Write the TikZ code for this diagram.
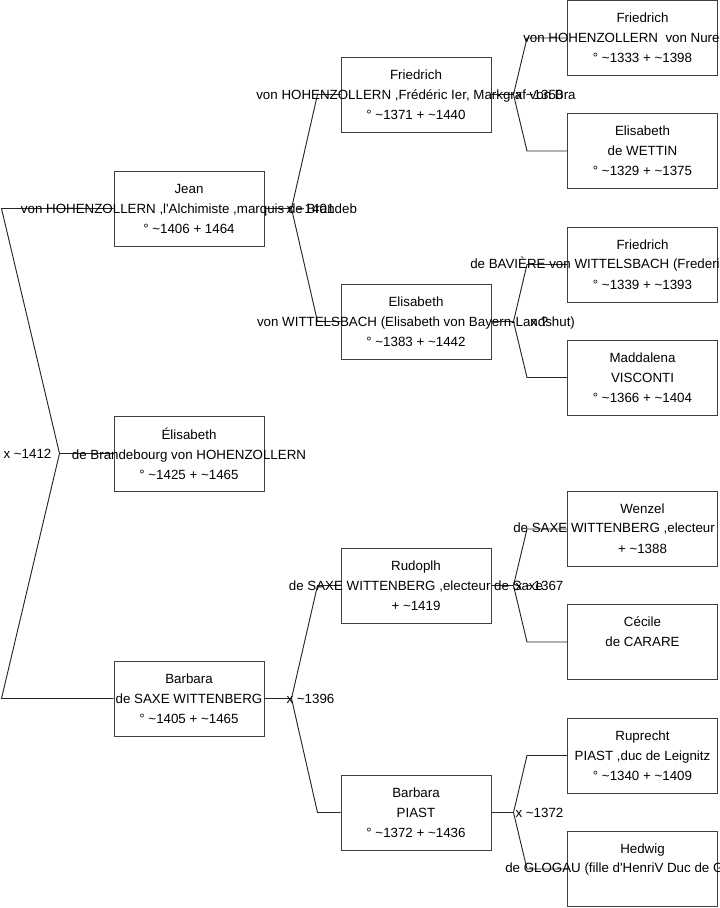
\documentclass[tikz,border=0pt]{standalone}
\usepackage{fontspec}
\setmainfont{Liberation Sans}
\usetikzlibrary{positioning}
\newcommand{\abt}{\textasciitilde}
\newcommand{\apos}{\textquotesingle}

\begin{document}
\begin{tikzpicture}[x=0.75pt, y=-0.75pt,
  every node/.style={font=\fontsize{10}{15}\selectfont, inner sep=0pt},
  person/.style={draw=black!75, line width=0.75pt, minimum width=112.5pt, minimum height=56.25pt},
  names/.style={align=center},
  wed/.style={},
  link/.style={draw=black!85, line width=0.7pt}]
  \useasboundingbox (0,0) rectangle (719,908);
  \clip (0,0) rectangle (719,908);

  % generation 1: the child and her parents
  \node[person] (elis) at (189,453.5) {};
  \node[person] (jean) at (189,208.5) {};
  \node[person] (barbs) at (189,698.5) {};
  % generation 2
  \node[person] (fried) at (416,94.5) {};
  \node[person] (elisw) at (416,321.5) {};
  \node[person] (rudo) at (416,585.5) {};
  \node[person] (barbp) at (416,812.5) {};
  % generation 3, cut by the right edge
  \foreach \n/\y in {friedn/38, elwet/151, friedb/264.5, madd/377.5, wenz/529, cec/642, rupr/755.5, hedw/869}
    \node[person] (\n) at (642.5,\y) {};

  % root couple
  \coordinate (x-elis) at ([xshift=-40.5pt]elis.west);
  \draw[link] (elis.west) -- (x-elis) -- ([xshift=-84pt]jean.west) -- (jean.west);
  \draw[link] (x-elis) -- ([xshift=-84pt]barbs.west) -- (barbs.west);
  \node[wed] (w-elis) at ([xshift=-24pt]x-elis) {x \abt1412};

  % gen 1 -> gen 2
  \foreach \c/\p/\m/\w in {jean/fried/elisw/{x \abt1401}, barbs/rudo/barbp/{x \abt1396}} {
    \coordinate (x-\c) at ([xshift=20.25pt]\c.east);
    \draw[link] (\c.east) -- (x-\c) -- ([xshift=-17.25pt]\p.west) -- (\p.west);
    \draw[link] (x-\c) -- ([xshift=-17.25pt]\m.west) -- (\m.west);
    \node[wed] (w-\c) at ([xshift=14.25pt]x-\c) {\w};
  }

  % gen 2 -> gen 3
  \foreach \c/\p/\m/\w in {fried/friedn/elwet/{x \abt1350}, elisw/friedb/madd/{x ?},
                           rudo/wenz/cec/{x \abt1367}, barbp/rupr/hedw/{x \abt1372}} {
    \coordinate (x-\c) at ([xshift=16.5pt]\c.east);
    \draw[link] (\c.east) -- (x-\c) -- ([xshift=-30pt]\p.west) -- (\p.west);
    \draw[link] (x-\c) -- ([xshift=-30pt]\m.west) -- (\m.west);
    \node[wed] (w-\c) at ([xshift=19.5pt]x-\c) {\w};
  }

  % names and dates
  \node[names] (t-elis) at (elis) {Élisabeth\\de Brandebourg von HOHENZOLLERN\\° \abt1425 + \abt1465};
  \node[names] (t-jean) at (jean) {Jean\\von HOHENZOLLERN ,l\apos Alchimiste ,marquis de Brandeb\\° \abt1406 + 1464};
  \node[names] (t-barbs) at (barbs) {Barbara\\de SAXE WITTENBERG\\° \abt1405 + \abt1465};
  \node[names] (t-fried) at (fried) {Friedrich\\von HOHENZOLLERN ,Frédéric Ier, Markgraf von Bra\\° \abt1371 + \abt1440};
  \node[names] (t-elisw) at (elisw) {Elisabeth\\von WITTELSBACH (Elisabeth von Bayern-Landshut)\\° \abt1383 + \abt1442};
  \node[names] (t-rudo) at (rudo) {Rudoplh\\de SAXE WITTENBERG ,electeur de Saxe\\+ \abt1419};
  \node[names] (t-barbp) at (barbp) {Barbara\\PIAST\\° \abt1372 + \abt1436};

  \node[names] (t-friedn) at (friedn) {Friedrich\\\mbox{}\\° \abt1333 + \abt1398};
  \node[anchor=west] (u-friedn) at (523,38) {von HOHENZOLLERN\ \ von Nure};
  \node[names] (t-elwet) at (elwet) {Elisabeth\\de WETTIN\\° \abt1329 + \abt1375};
  \node[names] (t-friedb) at (friedb) {Friedrich\\\mbox{}\\° \abt1339 + \abt1393};
  \node[anchor=west] (u-friedb) at (470,264.5) {de BAVIÈRE von WITTELSBACH (Frederi};
  \node[names] (t-madd) at (madd) {Maddalena\\VISCONTI\\° \abt1366 + \abt1404};
  \node[names] (t-wenz) at (wenz) {Wenzel\\\mbox{}\\+ \abt1388};
  \node[anchor=west] (u-wenz) at (513,529) {de SAXE WITTENBERG ,electeur};
  \node[names] (t-cec) at (cec) {Cécile\\de CARARE\\\mbox{}};
  \node[names] (t-rupr) at (rupr) {Ruprecht\\PIAST ,duc de Leignitz\\° \abt1340 + \abt1409};
  \node[names] (t-hedw) at (hedw) {Hedwig\\\mbox{}\\\mbox{}};
  \node[anchor=west] (u-hedw) at (505,869) {de GLOGAU (fille d\apos HenriV Duc de G};
\end{tikzpicture}
\end{document}
